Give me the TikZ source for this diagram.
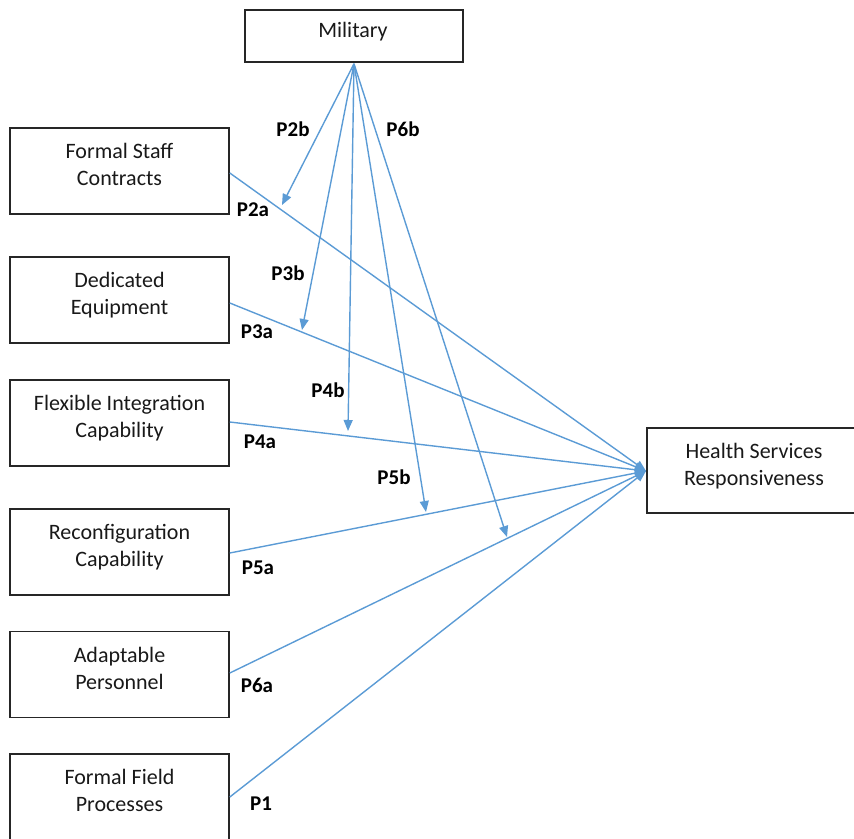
\documentclass[tikz,border=0pt]{standalone}
\usepackage{fontspec}
\setmainfont{Carlito}
\usetikzlibrary{arrows.meta}
\definecolor{myblue}{RGB}{91,155,213}
\begin{document}
\begin{tikzpicture}[x=1pt,y=-1pt,
 box/.style={draw=black!85, line width=1.6pt, minimum width=219pt, minimum height=86pt, inner sep=0pt},
 txt/.style={inner sep=0pt, anchor=base, font=\fontsize{22}{27}\selectfont, text=black!90},
 lab/.style={inner sep=0pt, font=\fontsize{21}{25}\selectfont\bfseries},
 link/.style={draw=myblue, line width=1.4pt, -{Triangle[length=11pt,width=9pt]}}
]
\useasboundingbox (0,0) rectangle (854,838);
% boxes
\node[box, minimum width=218pt, minimum height=52pt] (mil) at (354,36) {};
\node[box] (b1) at (119.5,171) {};
\node[box] (b2) at (119.5,300) {};
\node[box] (b3) at (119.5,423) {};
\node[box] (b4) at (119.5,552) {};
\node[box] (b5) at (119.5,674.5) {};
\node[box] (b6) at (119.5,797) {};
\node[box, minimum width=214pt, minimum height=85pt] (hs) at (754,470.5) {};
% texts
\node[txt] (milt) at (353,37) {Military};
\node[txt] (t1) at (119.5,158) {\begin{tabular}[t]{@{}c@{}}Formal Staff\\Contracts\end{tabular}};
\node[txt] (t2) at (119.5,287) {\begin{tabular}[t]{@{}c@{}}Dedicated\\Equipment\end{tabular}};
\node[txt] (t3) at (119.5,410) {\begin{tabular}[t]{@{}c@{}}Flexible Integration\\Capability\end{tabular}};
\node[txt] (t4) at (119.5,539) {\begin{tabular}[t]{@{}c@{}}Reconfiguration\\Capability\end{tabular}};
\node[txt] (t5) at (119.5,662) {\begin{tabular}[t]{@{}c@{}}Adaptable\\Personnel\end{tabular}};
\node[txt] (t6) at (119.5,784) {\begin{tabular}[t]{@{}c@{}}Formal Field\\Processes\end{tabular}};
\node[txt] (hst) at (754,458) {\begin{tabular}[t]{@{}c@{}}Health Services\\Responsiveness\end{tabular}};
% connection points
\coordinate (hin) at (646,471);
\coordinate (e2) at (282,205);
\coordinate (e3) at (302,330);
\coordinate (e4) at (348,431);
\coordinate (e5) at (426,512);
\coordinate (e6) at (507,537);
% main links
\draw[link] ([yshift=-2pt]b1.east) -- (hin);
\draw[link] ([yshift=-3pt]b2.east) -- (hin);
\draw[link] ([yshift=1pt]b3.east) -- (hin);
\draw[link] ([yshift=-1pt]b4.east) -- (hin);
\draw[link] ([yshift=1.5pt]b5.east) -- (hin);
\draw[link] (b6.east) -- (hin);
% moderating links
\draw[link] ([yshift=-1pt]mil.south) -- (e2);
\draw[link] ([yshift=-1pt]mil.south) -- (e3);
\draw[link] ([yshift=-1pt]mil.south) -- (e4);
\draw[link] ([yshift=-1pt]mil.south) -- (e5);
\draw[link] ([yshift=-1pt]mil.south) -- (e6);
% labels
\node[lab] (p2b) at (293,129) {P2b};
\node[lab] (p6b) at (403,129) {P6b};
\node[lab] (p2a) at (253,210) {P2a};
\node[lab] (p3b) at (288,273) {P3b};
\node[lab] (p3a) at (257,332) {P3a};
\node[lab] (p4b) at (328,390) {P4b};
\node[lab] (p4a) at (260,442) {P4a};
\node[lab] (p5b) at (394,477) {P5b};
\node[lab] (p5a) at (258,568) {P5a};
\node[lab] (p6a) at (257,685) {P6a};
\node[lab] (p1) at (261,804) {P1};
\end{tikzpicture}
\end{document}
